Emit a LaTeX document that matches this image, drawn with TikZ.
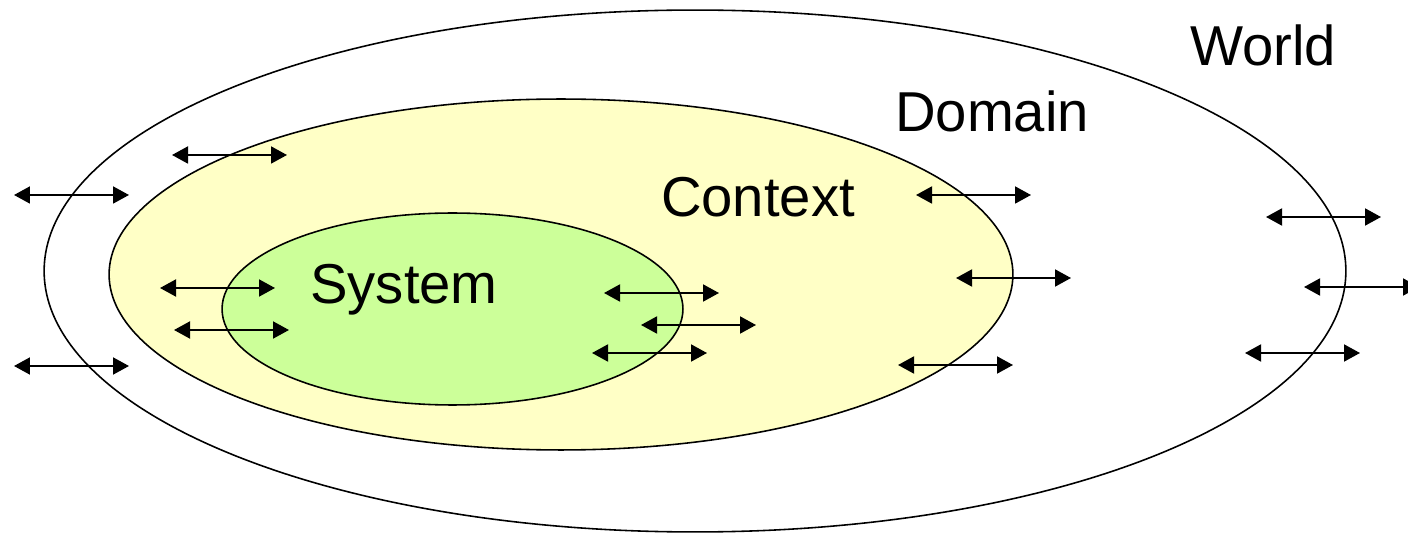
\documentclass[tikz,border=0pt]{standalone}
\usepackage{fontspec}
\setmainfont{Liberation Sans}
\usepackage{tikz}
\usetikzlibrary{arrows.meta, calc, positioning, shapes.geometric}

\definecolor{ctxyellow}{RGB}{255,255,198}
\definecolor{sysgreen}{RGB}{204,255,153}

\tikzset{
  zone/.style={draw, ellipse, inner sep=0pt, line width=0.9pt},
  lbl/.style={font=\fontsize{32}{38}\selectfont, inner sep=0pt},
  flow/.style={{Triangle[length=0.32cm,width=0.34cm]}-{Triangle[length=0.32cm,width=0.34cm]}, line width=1.1pt}
}

\begin{document}
\begin{tikzpicture}[x=0.02cm, y=-0.02cm]
  \useasboundingbox (0,0) rectangle (1408,536);
  \clip (0,0) rectangle (1408,536);

  %% nested zones
  \node[zone, fill=white, minimum width=26.04cm, minimum height=10.44cm] (domain) at (695,271) {};
  \node[zone, fill=ctxyellow, minimum width=18.08cm, minimum height=7.02cm] (context) at (561,274.5) {};
  \node[zone, fill=sysgreen, minimum width=9.22cm, minimum height=3.84cm] (system) at (452.5,309) {};

  %% labels
  \node[lbl] (world) at (1263,45) {World};
  \node[lbl] (domainlbl) at (992,111) {Domain};
  \node[lbl] (contextlbl) at (758,197) {Context};
  \node[lbl] (systemlbl) at (404,290) {System};

  %% interactions across boundaries
  \foreach \i/\x/\y in {1/14/195, 2/172/155, 3/14/366, 4/160/288, 5/174/330,
                        6/604/293, 7/641/325, 8/592/353, 9/916/195, 10/956/278,
                        11/898/365, 12/1266/217, 13/1304/287, 14/1245/353} {
    \coordinate (a\i) at (\x,\y);
    \coordinate (b\i) at ($(a\i)+(115,0)$);
    \draw[flow] (a\i) -- (b\i);
  }
\end{tikzpicture}
\end{document}
